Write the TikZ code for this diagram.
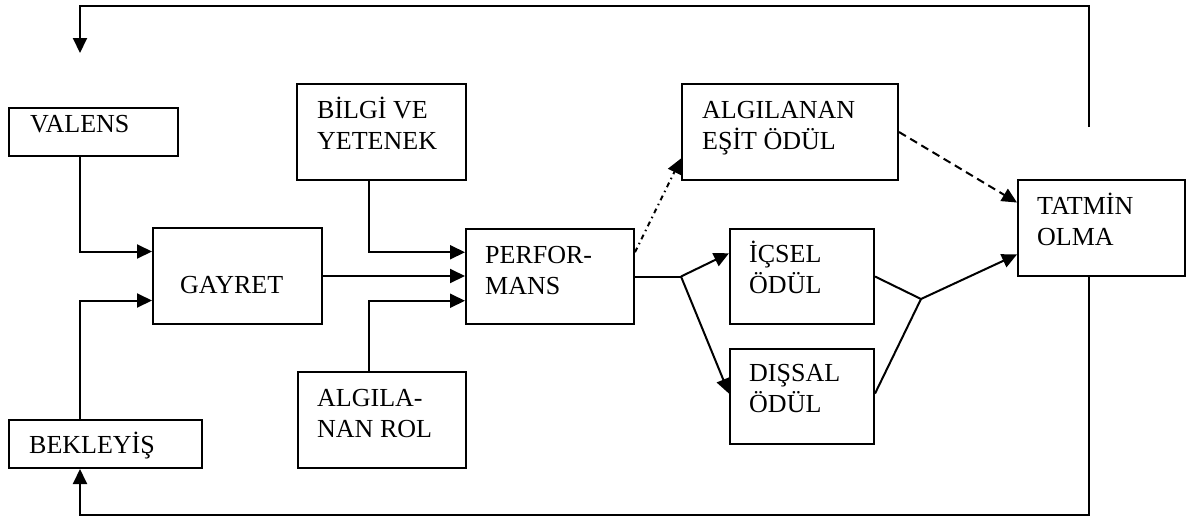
\documentclass[tikz,border=0pt]{standalone}
\usepackage{fontspec}
\setmainfont{Liberation Serif}
\usetikzlibrary{arrows.meta,calc}
\begin{document}
\begin{tikzpicture}[x=1pt,y=-1pt,
  box/.style={draw,line width=2pt,rectangle,inner sep=0pt,anchor=north west},
  lbl/.style={inner sep=0pt,anchor=base west,align=left,font=\fontsize{26}{31}\selectfont},
  wire/.style={line width=2pt},
  arr/.style={wire,-{Triangle[length=15pt,width=14pt]}},
  dashline/.style={arr,dash pattern=on 8pt off 5pt},
  dotline/.style={arr,dash pattern=on 5pt off 4pt on 1.5pt off 4pt},
]
\useasboundingbox (0,0) rectangle (1187,517);

% boxes
\node[box,minimum width=169pt,minimum height=48pt] (valens)   at (8,107)   {};
\node[box,minimum width=169pt,minimum height=96pt] (gayret)   at (152,227) {};
\node[box,minimum width=193pt,minimum height=48pt] (bekleyis) at (8,419)   {};
\node[box,minimum width=169pt,minimum height=96pt] (bilgi)    at (296,83)  {};
\node[box,minimum width=168pt,minimum height=95pt] (perf)     at (465,228) {};
\node[box,minimum width=168pt,minimum height=96pt] (rol)      at (297,371) {};
\node[box,minimum width=216pt,minimum height=96pt] (esit)     at (681,83)  {};
\node[box,minimum width=144pt,minimum height=95pt] (icsel)    at (729,228) {};
\node[box,minimum width=144pt,minimum height=95pt] (dissal)   at (729,348) {};
\node[box,minimum width=167pt,minimum height=96pt] (tatmin)   at (1017,179){};

% labels (anchored at the baseline of the last line)
\node[lbl] (valens-t)   at (30,132)   {VALENS};
\node[lbl] (gayret-t)   at (180,293)  {GAYRET};
\node[lbl] (bekleyis-t) at (29,453)   {BEKLEYİŞ};
\node[lbl] (bilgi-t)    at (317,149)  {BİLGİ VE\\YETENEK};
\node[lbl] (perf-t)     at (485,294)  {PERFOR-\\MANS};
\node[lbl] (rol-t)      at (317,437)  {ALGILA-\\NAN ROL};
\node[lbl] (esit-t)     at (702,149)  {ALGILANAN\\EŞİT ÖDÜL};
\node[lbl] (icsel-t)    at (749,293)  {İÇSEL\\ÖDÜL};
\node[lbl] (dissal-t)   at (749,412)  {DIŞSAL\\ÖDÜL};
\node[lbl] (tatmin-t)   at (1037,245) {TATMİN\\OLMA};

% helper coordinates
\coordinate (lx) at (80,0);
\coordinate (mx) at (369,0);
\coordinate (rx) at (1089,0);
\coordinate (topy) at (0,6);
\coordinate (boty) at (0,515);
\coordinate (fbstart) at (1089,127);
\coordinate (fbend) at (80,53);
\coordinate (fork) at (perf.east -| esit.west);
\coordinate (join) at (921,299);

% inputs to effort
\draw[arr] (valens.south -| lx) |- ($(gayret.north west)!0.25!(gayret.south west)$);
\draw[arr] (bekleyis.north -| lx) |- ($(gayret.north west)!0.75!(gayret.south west)$);

% inputs to performance
\draw[arr] (gayret.east) -- (gayret.east -| perf.west);
\draw[arr] (bilgi.south -| mx) |- ($(perf.north west)!0.25!(perf.south west)$);
\draw[arr] (rol.north -| mx) |- ($(perf.north west)!0.75!(perf.south west)$);

% rewards
\draw[wire] (perf.east) -- (fork);
\draw[arr] (fork) -- ($(icsel.north west)!0.26!(icsel.south west)$);
\draw[arr] (fork) -- ($(dissal.north west)!0.47!(dissal.south west)$);
\draw[dotline] ($(perf.north east)!0.25!(perf.south east)$) -- ($(esit.north west)!0.77!(esit.south west)$);

% satisfaction
\draw[wire] (icsel.east) -- (join);
\draw[wire] ($(dissal.north east)!0.47!(dissal.south east)$) -- (join);
\draw[arr] (join) -- ($(tatmin.north west)!0.77!(tatmin.south west)$);
\draw[dashline] (esit.east) -- ($(tatmin.north west)!0.24!(tatmin.south west)$);

% feedback loops
\draw[arr] (fbstart) -- (fbstart |- topy) -| (fbend);
\draw[arr] (tatmin.south -| rx) -- (rx |- boty) -| (bekleyis.south -| lx);
\end{tikzpicture}
\end{document}
